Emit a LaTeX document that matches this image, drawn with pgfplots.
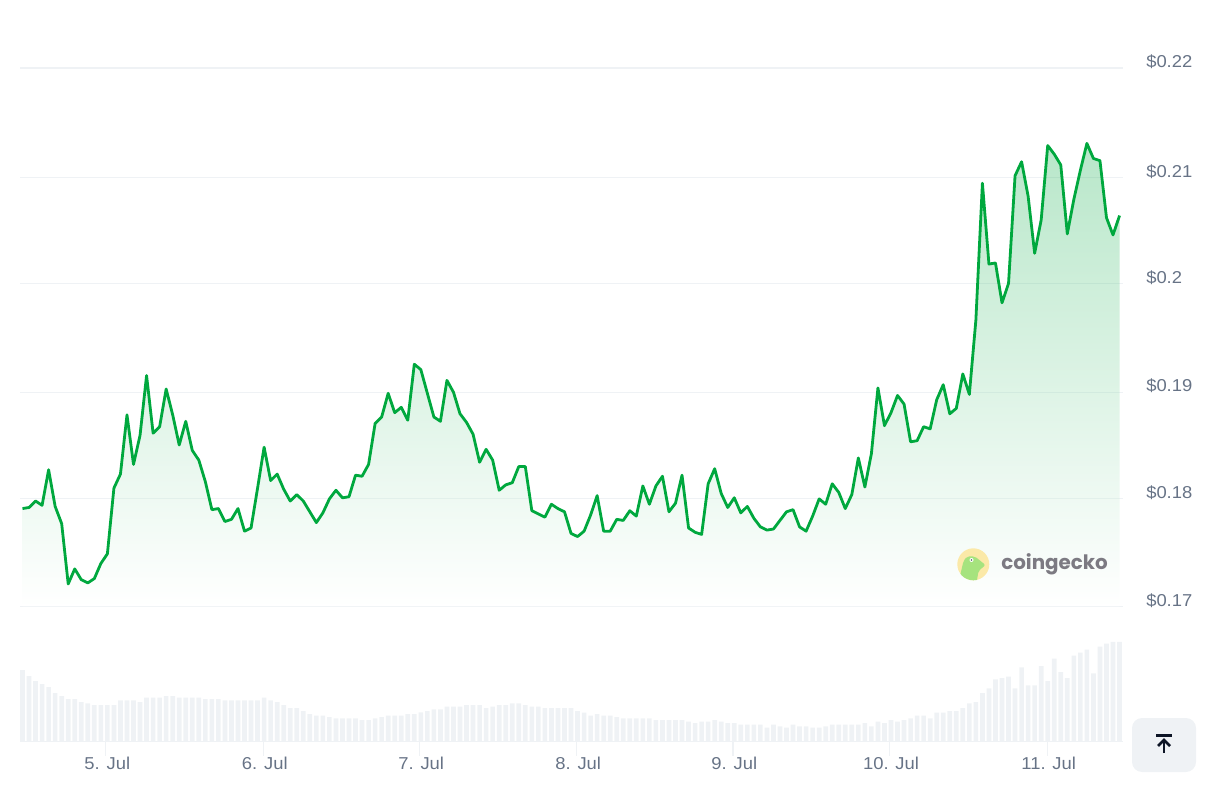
\documentclass[border=0pt]{standalone}
\usepackage{fontspec}
\setmainfont[FakeStretch=1.07]{Liberation Sans}
\newfontfamily\geckofont{Poppins}
\usepackage{pgfplots}
\usepackage{pgfplotstable}
\pgfplotsset{compat=1.18}
\definecolor{linegreen}{HTML}{00A83E}
\definecolor{gridgray}{HTML}{EFF2F5}
\definecolor{labelgray}{HTML}{677386}
\definecolor{navy}{HTML}{0D1526}
\definecolor{geckoyellow}{HTML}{FBE9A8}
\definecolor{geckogreen}{HTML}{A6E37E}
\definecolor{geckotext}{HTML}{7C7A82}

% hour index, price, volume (relative)
\pgfplotstableread{
i price vol
0 0.1791 215
1 0.1792 197
2 0.1798 182
3 0.1794 173
4 0.1827 164
5 0.1793 146
6 0.1777 137
7 0.1721 128
8 0.1735 128
9 0.1725 119
10 0.1722 115
11 0.1726 110
12 0.1740 110
13 0.1749 110
14 0.1810 110
15 0.1823 124
16 0.1878 124
17 0.1832 124
18 0.1859 119
19 0.19145 132
20 0.1861 132
21 0.1867 132
22 0.1902 137
23 0.1878 137
24 0.1850 132
25 0.1872 132
26 0.1845 132
27 0.1836 132
28 0.1816 128
29 0.1790 128
30 0.1791 128
31 0.1779 124
32 0.1781 124
33 0.1791 124
34 0.1770 124
35 0.1773 124
36 0.1810 124
37 0.1848 132
38 0.1817 124
39 0.1823 119
40 0.1809 110
41 0.1798 101
42 0.1804 101
43 0.1798 92
44 0.1788 83
45 0.1778 78
46 0.1787 78
47 0.1800 74
48 0.1808 70
49 0.1801 70
50 0.1802 70
51 0.1822 70
52 0.1821 65
53 0.1832 65
54 0.1870 70
55 0.1876 74
56 0.1898 78
57 0.1880 78
58 0.1885 78
59 0.1873 83
60 0.1925 83
61 0.1920 88
62 0.1898 92
63 0.1876 97
64 0.1872 97
65 0.1910 105
66 0.1899 105
67 0.1879 105
68 0.1871 110
69 0.1860 110
70 0.1834 110
71 0.1846 101
72 0.1836 105
73 0.1808 110
74 0.1813 110
75 0.1815 115
76 0.1830 115
77 0.1830 110
78 0.1789 105
79 0.1786 105
80 0.1783 101
81 0.1795 101
82 0.1791 101
83 0.1788 101
84 0.1768 101
85 0.1765 92
86 0.1770 87
87 0.1785 78
88 0.1803 83
89 0.1770 78
90 0.1770 78
91 0.1781 74
92 0.1780 70
93 0.1789 70
94 0.1784 70
95 0.1812 70
96 0.1795 70
97 0.1812 65
98 0.1821 65
99 0.1788 65
100 0.1796 65
101 0.1822 65
102 0.1773 60
103 0.1769 56
104 0.1767 60
105 0.1814 60
106 0.1828 65
107 0.1805 60
108 0.1792 56
109 0.1801 56
110 0.1787 51
111 0.1793 51
112 0.1782 51
113 0.1774 51
114 0.1771 42
115 0.1772 51
116 0.1780 46
117 0.1788 42
118 0.1790 51
119 0.1774 46
120 0.1770 46
121 0.1784 42
122 0.1800 42
123 0.1795 46
124 0.1814 51
125 0.1806 51
126 0.1791 51
127 0.1804 51
128 0.1838 51
129 0.1811 56
130 0.1842 46
131 0.1903 60
132 0.1868 56
133 0.1880 65
134 0.1896 60
135 0.1888 65
136 0.1853 70
137 0.1854 78
138 0.1867 78
139 0.1865 70
140 0.1892 87
141 0.1906 87
142 0.1879 92
143 0.1884 92
144 0.1916 101
145 0.1897 115
146 0.1966 119
147 0.2093 146
148 0.2018 160
149 0.2019 187
150 0.1982 191
151 0.2000 195
152 0.2100 160
153 0.2113 223
154 0.2081 169
155 0.2028 169
156 0.2059 227
157 0.2128 182
158 0.2120 249
159 0.2110 209
160 0.2046 191
161 0.2078 258
162 0.2105 267
163 0.2130 276
164 0.2116 205
165 0.2114 285
166 0.2061 294
167 0.2045 299
168 0.2063 299
}\datatable

\begin{document}
\begin{tikzpicture}
\path[use as bounding box] (0,0) rectangle (913.5pt,589.5pt);

% price panel
\begin{axis}[
	at={(15pt,134.55pt)},
	anchor=south west,
	scale only axis,
	width=827.25pt,
	height=403.95pt,
	xmin=-0.383, xmax=168.53,
	ymin=0.17, ymax=0.22,
	clip=false,
	axis line style={draw=none},
	xtick=\empty,
	ytick={0.17,0.18,0.1899,0.2,0.2098,0.22},
	yticklabels={\$0.17,\$0.18,\$0.19,\$0.2,\$0.21,\$0.22},
	yticklabel pos=right,
	major tick length=0pt,
	ymajorgrids,
	grid style={color=gridgray, line width=0.8pt},
	yticklabel style={anchor=west, inner sep=0pt, xshift=17.25pt, yshift=4.6pt,
		font=\fontsize{12.9pt}{15pt}\selectfont, text=labelgray},
	]
	\addplot[draw=none, top color=linegreen, bottom color=white, opacity=0.28]
		table[x=i, y=price] {\datatable} \closedcycle;
	\addplot[color=linegreen, line width=2.1pt, line join=round, mark=none]
		table[x=i, y=price] {\datatable};
\end{axis}

% volume panel
\begin{axis}[
	at={(15pt,33.2pt)},
	anchor=south west,
	scale only axis,
	width=827.25pt,
	height=74.8pt,
	xmin=-0.383, xmax=168.53,
	ymin=0, ymax=299,
	axis y line=none,
	axis x line=bottom,
	axis line style={-, draw=gridgray, line width=0.8pt},
	xtick={12.78,36.9,60.85,84.9,108.8,132.8,156.95},
	xticklabels={5. Jul,6. Jul,7. Jul,8. Jul,9. Jul,10. Jul,11. Jul},
	tick align=outside,
	major tick length=10.5pt,
	tick style={draw=gridgray, line width=0.8pt},
	xticklabel style={inner sep=0pt, xshift=1pt, yshift=-1pt,
		font=\fontsize{12.9pt}{15pt}\selectfont, text=labelgray},
	]
	\addplot[ybar, bar width=3.5pt, bar shift=0pt, fill=gridgray, draw=none]
		table[x=i, y=vol] {\datatable};
\end{axis}

% watermark and scroll button, in reference pixels
\begin{scope}[x=0.75pt, y=-0.75pt, shift={(0pt,589.5pt)}]
	\fill[rounded corners=7.5pt, fill=gridgray] (1132,718) rectangle (1196,772);
	\fill[navy] (1156,734) rectangle (1172,736.5);
	\draw[navy, line width=2.1pt] (1164,753) -- (1164,740);
	\draw[navy, line width=2.1pt, line join=miter] (1158,746) -- (1164,740) -- (1170,746);

	\fill[geckoyellow] (973.3,564.3) circle (12pt);
	\begin{scope}
		\clip (973.3,564.3) circle (12pt);
		\fill[geckogreen, rounded corners=1.5pt]
			(960,576) -- (963.5,561) -- (967,556.5) -- (975,556.5) -- (985.5,565)
			-- (978.5,571) -- (976.5,583) -- (962,583) -- cycle;
	\end{scope}
	\fill[white] (971.5,560) circle (1.5pt);
	\fill[navy!70] (971.5,560) circle (0.6pt);
	\node[anchor=west, inner sep=0pt, text=geckotext,
		font=\geckofont\bfseries\fontsize{14.9pt}{18pt}\selectfont] at (1001,564) {coingecko};
\end{scope}
\end{tikzpicture}
\end{document}
